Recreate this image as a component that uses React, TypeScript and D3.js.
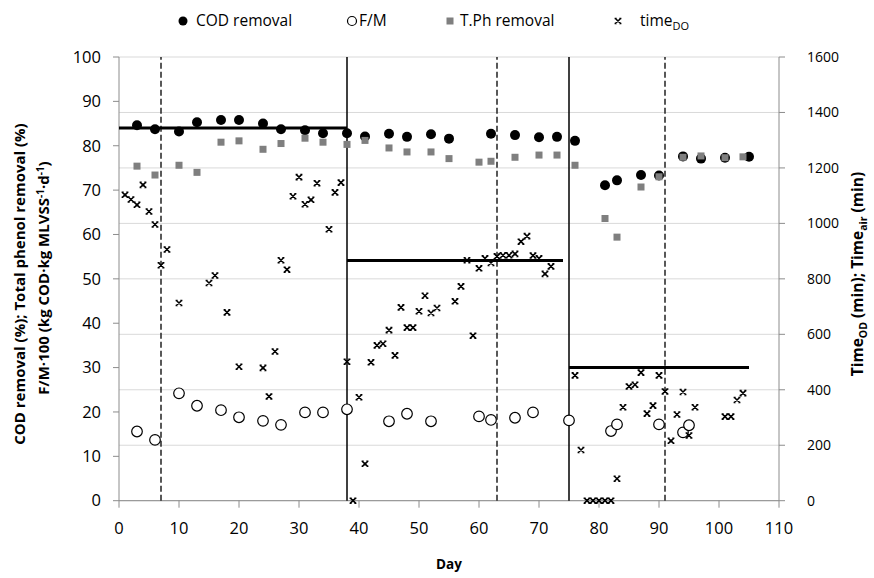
import * as d3 from 'd3'

// COD removal (%), filled circles
const codDays = [3, 6, 10, 13, 17, 20, 24, 27, 31, 34, 38, 41, 45, 48, 52, 55, 62, 66, 70, 73, 76, 81, 83, 87, 90, 94, 97, 101, 105]
const codVals = [84.6, 83.7, 83.2, 85.3, 85.8, 85.8, 85.0, 83.7, 83.5, 82.8, 82.8, 82.1, 82.7, 82.0, 82.6, 81.6, 82.7, 82.4, 81.9, 82.0, 81.1, 71.1, 72.2, 73.4, 73.3, 77.6, 77.1, 77.3, 77.5]

// F/M*100, open circles
const fmDays = [3, 6, 10, 13, 17, 20, 24, 27, 31, 34, 38, 45, 48, 52, 60, 62, 66, 69, 75, 82, 83, 90, 94, 95]
const fmVals = [15.6, 13.7, 24.2, 21.4, 20.4, 18.8, 18.0, 17.1, 19.9, 19.9, 20.6, 17.9, 19.6, 17.9, 19.0, 18.2, 18.7, 19.9, 18.1, 15.7, 17.2, 17.2, 15.4, 17.0]

// Total phenol removal (%), grey squares
const tphDays = [3, 6, 10, 13, 17, 20, 24, 27, 31, 34, 38, 41, 45, 48, 52, 55, 60, 62, 66, 70, 73, 76, 81, 83, 87, 90, 94, 97, 101, 104]
const tphVals = [75.4, 73.4, 75.6, 74.0, 80.8, 81.1, 79.2, 80.5, 81.7, 80.8, 80.3, 81.2, 79.5, 78.6, 78.6, 77.1, 76.3, 76.5, 77.4, 77.9, 77.9, 75.6, 63.6, 59.4, 70.7, 73.0, 77.4, 77.7, 77.3, 77.5]

// time_DO (min), right axis
const doDays = [1, 2, 3, 4, 5, 6, 7, 8, 10, 15, 16, 18, 20, 24, 25, 26, 27, 28, 29, 30, 31, 32, 33, 35, 36, 37,
  38, 39, 40, 41, 42, 43, 44, 45, 46, 47, 48, 49, 50, 51, 52, 53, 56, 57, 58, 59, 60, 61, 62, 63, 64, 65, 66, 67, 68, 69, 70, 71, 72,
  76, 77, 78, 79, 80, 81, 82, 83, 84, 85, 86, 87, 88, 89, 90, 91, 92, 93, 94, 95, 96, 101, 102, 103, 104]
const doVals = [1103, 1086, 1067, 1139, 1043, 996, 849, 906, 713, 785, 812, 679, 483, 479, 376, 538, 867, 833, 1098, 1167, 1069, 1085, 1145, 979, 1112, 1147,
  501, 0, 373, 133, 499, 560, 566, 615, 524, 697, 624, 624, 683, 739, 677, 695, 719, 773, 867, 595, 838, 874, 857, 881, 885, 885, 890, 934, 954, 884, 874, 818, 845,
  452, 183, 0, 0, 0, 0, 0, 79, 337, 412, 418, 462, 314, 343, 452, 394, 216, 311, 392, 235, 337, 303, 303, 363, 388]

// period means (horizontal black lines)
const meanFrom = [0, 38, 75]
const meanTo = [38, 74, 105]
const meanVals = [84, 866, 480]
const meanAxis = ['left', 'right', 'right']

// period separators
const solidDays = [38, 75]
const dashedDays = [7, 63, 91]

const xTicks = d3.range(0, 111, 10)
const leftTicks = d3.range(0, 101, 10)
const rightTicks = d3.range(0, 1601, 200)

const FONT = "'Open Sans', sans-serif"
const AXIS = '#8c8c8c'
const GRID = '#d9d9d9'

const x = d3.scaleLinear().domain([0, 110]).range([119, 779])
const yL = d3.scaleLinear().domain([0, 100]).range([500.7, 57])
const yR = d3.scaleLinear().domain([0, 1600]).range([500.7, 57])

const xMark = (cx: number, cy: number, k: string) => (
  <path key={k} transform={`translate(${cx},${cy})`}
    d="M-2.6,-2.5L2.6,2.5M2.6,-2.5L-2.6,2.5M-3.4,-2.5H-1.3M1.3,-2.5H3.4M-3.4,2.5H-1.3M1.3,2.5H3.4"
    stroke="#000" strokeWidth={1.6} fill="none" />
)

export default function App() {
  const [x0, x1] = x.range()
  return (
    <svg width={874} height={578} style={{ position: 'absolute', left: 0, top: 0, background: '#fff' }} fontFamily={FONT}>
      {/* gridlines follow the right axis */}
      {rightTicks.map(t => (
        <line key={'g' + t} x1={x0} x2={x1} y1={yR(t)} y2={yR(t)} stroke={GRID} strokeWidth={1} />
      ))}

      {/* axes */}
      <line x1={x0} x2={x0} y1={yL(0)} y2={yL(100)} stroke={AXIS} />
      <line x1={x1} x2={x1} y1={yR(0)} y2={yR(1600)} stroke={AXIS} />
      <line x1={x0} x2={x1} y1={yL(0)} y2={yL(0)} stroke={AXIS} />
      {leftTicks.map(t => (
        <g key={'l' + t}>
          <line x1={x0 - 6} x2={x0} y1={yL(t)} y2={yL(t)} stroke={AXIS} />
          <text x={101} y={yL(t)} dy="0.35em" textAnchor="end" fontSize={16.5} fill="#000">{t}</text>
        </g>
      ))}
      {rightTicks.map(t => (
        <g key={'r' + t}>
          <line x1={x1} x2={x1 + 6} y1={yR(t)} y2={yR(t)} stroke={AXIS} />
          <text x={807} y={yR(t)} dy="0.35em" textAnchor="start" fontSize={14} fill="#000">{t}</text>
        </g>
      ))}
      {xTicks.map(t => (
        <g key={'x' + t}>
          <line x1={x(t)} x2={x(t)} y1={yL(0)} y2={yL(0) + 7} stroke={AXIS} />
          <text x={x(t)} y={534} textAnchor="middle" fontSize={16.5} fill="#000">{t}</text>
        </g>
      ))}

      {/* period separators */}
      {solidDays.map(d => (
        <line key={'s' + d} x1={x(d)} x2={x(d)} y1={yL(0)} y2={yL(100)} stroke="#000" strokeWidth={1.5} />
      ))}
      {dashedDays.map(d => (
        <line key={'d' + d} x1={x(d)} x2={x(d)} y1={yL(0)} y2={yL(100)} stroke="#222" strokeWidth={1.5} strokeDasharray="6,3" />
      ))}

      {/* means */}
      {meanVals.map((v, i) => {
        const yy = meanAxis[i] === 'left' ? yL(v) : yR(v)
        return <line key={'m' + i} x1={x(meanFrom[i])} x2={x(meanTo[i])} y1={yy} y2={yy} stroke="#000" strokeWidth={3} />
      })}

      {/* series */}
      {codDays.map((d, i) => <circle key={'c' + i} cx={x(d)} cy={yL(codVals[i])} r={5} fill="#000" />)}
      {fmDays.map((d, i) => <circle key={'f' + i} cx={x(d)} cy={yL(fmVals[i])} r={5.3} fill="#fff" stroke="#000" strokeWidth={1.2} />)}
      {tphDays.map((d, i) => <rect key={'t' + i} x={x(d) - 3.5} y={yL(tphVals[i]) - 3.5} width={7} height={7} fill="#7f7f7f" />)}
      {doDays.map((d, i) => xMark(x(d), yR(doVals[i]), 'o' + i))}

      {/* legend */}
      <g fontSize={15.5} fill="#000">
        <circle cx={183} cy={21} r={4.5} fill="#000" />
        <text x={196} y={21} dy="0.35em">COD removal</text>
        <circle cx={352} cy={21} r={4.5} fill="#fff" stroke="#000" strokeWidth={1.2} />
        <text x={359} y={21} dy="0.35em">F/M</text>
        <rect x={446.5} y={17.5} width={7} height={7} fill="#7f7f7f" />
        <text x={460} y={21} dy="0.35em">T.Ph removal</text>
        {xMark(618, 21, 'lg')}
        <text x={640} y={21} dy="0.35em">time<tspan fontSize={11} dy={4}>DO</tspan></text>
      </g>

      {/* axis titles */}
      <text x={449} y={569} textAnchor="middle" fontSize={13.5} fontWeight="bold">Day</text>
      <text transform="translate(25,284) rotate(-90)" textAnchor="middle" fontSize={15} fontWeight="bold">
        COD removal (%); Total phenol removal (%)
      </text>
      <text transform="translate(49,278) rotate(-90)" textAnchor="middle" fontSize={15} fontWeight="bold">
        F/M·100 (kg COD·kg MLVSS<tspan fontSize={10} dy={-5}>-1</tspan><tspan dy={5}>·d</tspan><tspan fontSize={10} dy={-5}>-1</tspan><tspan dy={5}>)</tspan>
      </text>
      <text transform="translate(863,274) rotate(-90)" textAnchor="middle" fontSize={15.5} fontWeight="bold">
        Time<tspan fontSize={10.5} dy={3.5}>OD</tspan><tspan dy={-3.5}> (min); Time</tspan><tspan fontSize={10.5} dy={3.5}>air</tspan><tspan dy={-3.5}>  (min)</tspan>
      </text>
    </svg>
  )
}
